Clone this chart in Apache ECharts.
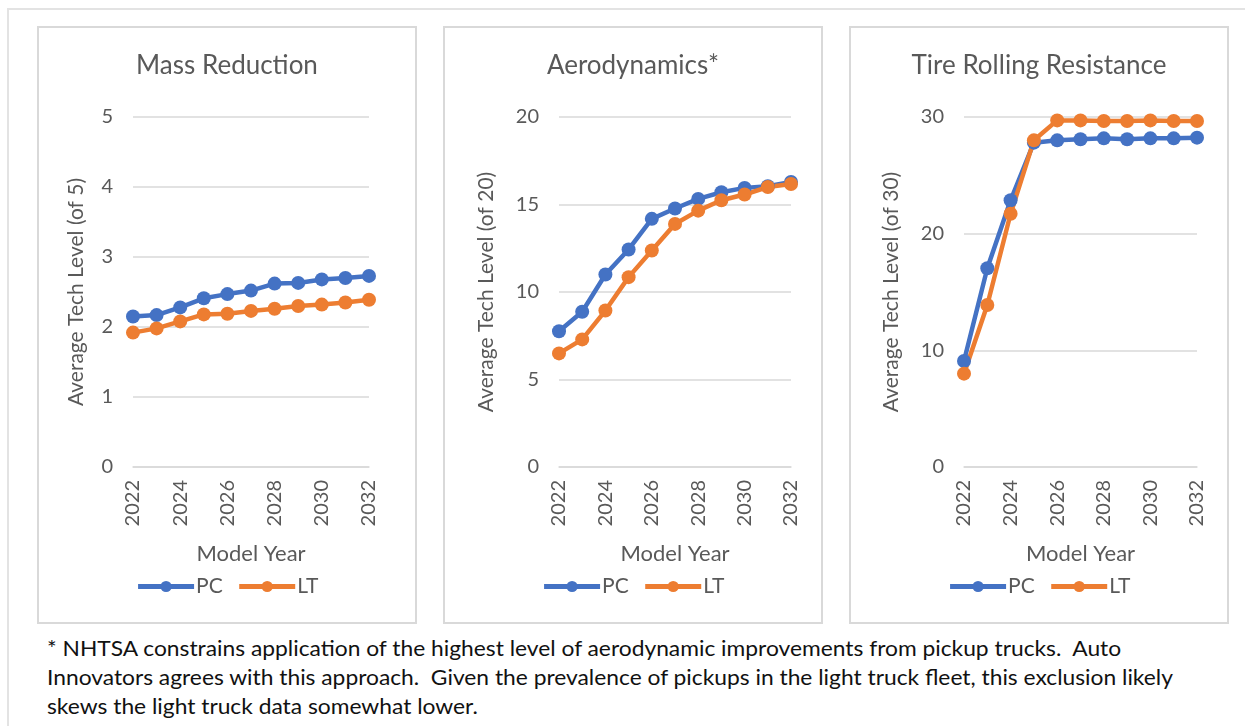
<!DOCTYPE html>
<html>
<head>
<meta charset="utf-8">
<script src="https://cdn.jsdelivr.net/npm/echarts@6/dist/echarts.min.js"></script>
<style>
  html, body { margin: 0; padding: 0; background: #fff; }
  body { width: 1245px; height: 726px; position: relative; overflow: hidden; font-family: Lato, "Open Sans", sans-serif; }
  .frame { position: absolute; left: 7px; top: 8px; width: 1260px; height: 740px; border: 2px solid #e3e3e3; }
  .panel { position: absolute; top: 26px; width: 376px; height: 594px; border: 2px solid #d9d9d9; background: #fff; }
  .chart { width: 100%; height: 100%; }
  .note { position: absolute; left: 47px; top: 633px; font-size: 21px; line-height: 29px; color: #111;
          white-space: nowrap; transform: scaleX(1.085); transform-origin: left top; }
</style>
</head>
<body>
<div class="frame"></div>
<div class="panel" style="left:37px"><div class="chart" id="c1"></div></div>
<div class="panel" style="left:443px"><div class="chart" id="c2"></div></div>
<div class="panel" style="left:849px"><div class="chart" id="c3"></div></div>
<div class="note">* NHTSA constrains application of the highest level of aerodynamic improvements from pickup trucks.&nbsp; Auto<br>Innovators agrees with this approach.&nbsp; Given the prevalence of pickups in the light truck fleet, this exclusion likely<br>skews the light truck data somewhat lower.</div>
<script>
// model years
const years = ['2022','2023','2024','2025','2026','2027','2028','2029','2030','2031','2032'];

// Mass Reduction (of 5)
const massPC = [2.15, 2.17, 2.28, 2.41, 2.47, 2.52, 2.62, 2.63, 2.68, 2.70, 2.73];
const massLT = [1.92, 1.98, 2.08, 2.18, 2.19, 2.23, 2.26, 2.30, 2.32, 2.35, 2.39];

// Aerodynamics (of 20)
const aeroPC = [7.76, 8.87, 11.0, 12.43, 14.18, 14.77, 15.32, 15.7, 15.95, 16.04, 16.29];
const aeroLT = [6.49, 7.29, 8.94, 10.85, 12.37, 13.89, 14.65, 15.24, 15.57, 16.0, 16.17];

// Tire Rolling Resistance (of 30)
const tirePC = [9.09, 17.03, 22.86, 27.8, 28.0, 28.09, 28.17, 28.09, 28.17, 28.17, 28.23];
const tireLT = [8.0, 13.89, 21.71, 28.0, 29.71, 29.71, 29.66, 29.66, 29.71, 29.66, 29.66];

const FONT = 'Lato';
const GREY = '#595959';

function makeOption(title, yName, yMax, yStep, pc, lt, left, right, nameGap) {
  const line = (name, color, data) => ({
    name: name,
    type: 'line',
    data: data,
    symbol: 'circle',
    symbolSize: 14,
    color: color,
    lineStyle: { width: 4.5, color: color },
    itemStyle: { color: color }
  });
  return {
    animation: false,
    textStyle: { fontFamily: FONT },
    title: {
      text: title,
      left: 'center',
      top: 20,
      textStyle: { fontFamily: FONT, fontSize: 26, fontWeight: 'normal', color: GREY }
    },
    legend: {
      bottom: 20,
      left: 'center',
      itemWidth: 56,
      itemHeight: 14,
      itemGap: 14,
      lineStyle: { width: 5 },
      textStyle: { fontFamily: FONT, fontSize: 21, color: GREY, padding: [0, 0, 0, -3] },
      data: ['PC', 'LT']
    },
    grid: { left: left, right: right, top: 89, bottom: 155 },
    xAxis: {
      type: 'category',
      data: years,
      boundaryGap: false,
      name: 'Model Year',
      nameLocation: 'middle',
      nameGap: 76,
      nameTextStyle: { fontFamily: FONT, fontSize: 22, color: GREY },
      axisLine: { show: true, lineStyle: { color: '#d9d9d9', width: 1.5 } },
      axisTick: { show: false },
      axisLabel: { rotate: 90, interval: 1, fontSize: 20, color: GREY, margin: 13, fontFamily: FONT }
    },
    yAxis: {
      type: 'value',
      min: 0,
      max: yMax,
      interval: yStep,
      name: yName,
      nameLocation: 'middle',
      nameGap: nameGap,
      nameTextStyle: { fontFamily: FONT, fontSize: 21, color: GREY },
      axisLine: { show: false },
      axisTick: { show: false },
      axisLabel: { fontSize: 20, color: GREY, margin: 20, fontFamily: FONT },
      splitLine: { lineStyle: { color: '#d9d9d9', width: 1.5 } }
    },
    series: [line('PC', '#4472C4', pc), line('LT', '#ED7D31', lt)]
  };
}

const panels = [
  ['c1', 'Mass Reduction', 'Average Tech Level (of 5)', 5, 1, massPC, massLT, 94, 46, 46],
  ['c2', 'Aerodynamics*', 'Average Tech Level (of 20)', 20, 5, aeroPC, aeroLT, 114, 30, 62],
  ['c3', 'Tire Rolling Resistance', 'Average Tech Level (of 30)', 30, 10, tirePC, tireLT, 113, 30, 62]
];

panels.forEach(p => {
  const myChart = echarts.init(document.getElementById(p[0]));
  myChart.setOption(makeOption(p[1], p[2], p[3], p[4], p[5], p[6], p[7], p[8], p[9]));
});
</script>
</body>
</html>
